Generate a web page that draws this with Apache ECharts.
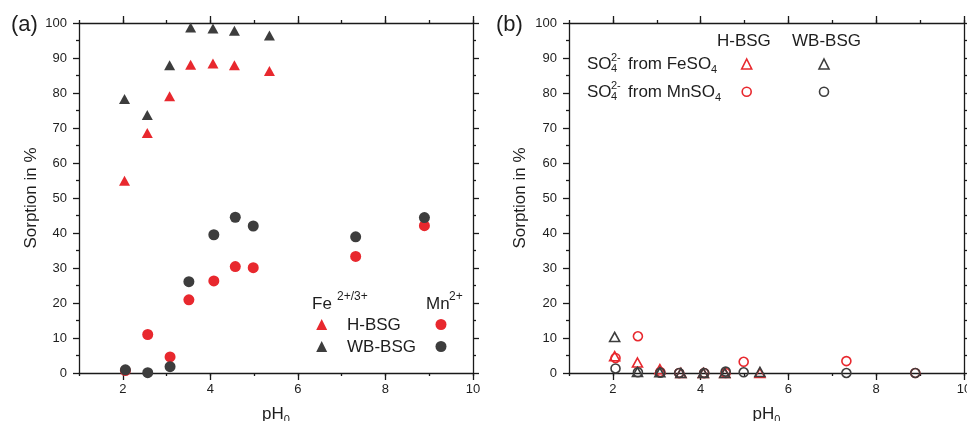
<!DOCTYPE html>
<html><head><meta charset="utf-8">
<script src="https://cdn.jsdelivr.net/npm/echarts@6/dist/echarts.min.js"></script>
<style>html,body{margin:0;padding:0;background:#fff}#c{width:967px;height:421px}</style>
</head><body><div id="c"></div>
<script>
// ---- data ----
const phFe = [2.04, 2.56, 3.07, 3.55, 4.06, 4.55, 5.35];
const phMn = [2.06, 2.57, 3.08, 3.51, 4.08, 4.57, 4.98, 7.32, 8.89];
// panel (a): sorption of metal ions
const feH = [54.9, 68.6, 79.1, 88.1, 88.4, 87.9, 86.3];
const feW = [78.3, 73.7, 87.9, 98.7, 98.4, 97.8, 96.4];
const mnH = [0.7, 11.0, 4.6, 20.9, 26.3, 30.4, 30.1, 33.3, 42.1];
const mnW = [0.9, 0.1, 1.8, 26.1, 39.5, 44.5, 42.0, 38.9, 44.4];
// panel (b): sorption of sulfate
const so4FeH = [4.8, 3.0, 1.1, 0, 0, 0, 0];
const so4FeW = [10.3, 0.3, 0.2, 0, 0, 0, 0.3];
const so4MnH = [4.3, 10.5, 0.3, 0, 0, 0, 3.2, 3.4, 0];
const so4MnW = [1.3, 0.2, 0.1, 0, 0, 0.4, 0.2, 0, 0];
const xTicks = [2, 4, 6, 8, 10];

const RED = '#e8282e', DARK = '#3d3d3d', TXT = '#1e1e1e', AX = '#1a1a1a';
const FONT = '"Liberation Sans", Arial, sans-serif';
const pairs = (xs, ys) => xs.map((x, i) => [x, ys[i]]);

const axLine = {color: AX, width: 1.3};
// minor x axis: a tick at every integer (short), labels at even values
function xAxis(gi, pos, main) {
  return {
    type: 'value', gridIndex: gi, position: pos, min: 1, max: 10, interval: 1,
    axisLine: {show: true, onZero: false, lineStyle: axLine},
    axisTick: {show: true, inside: false, length: 3, lineStyle: axLine},
    axisLabel: {show: main, margin: 10, fontSize: 13, color: TXT, fontFamily: FONT, hideOverlap: false,
      formatter: v => xTicks.indexOf(v) >= 0 ? String(v) : ''},
    splitLine: {show: false},
    name: main ? '{a|pH}{s|0}' : '', nameLocation: 'middle', nameGap: 30,
    nameTextStyle: {color: TXT, fontFamily: FONT, fontSize: 17,
      rich: {a: {fontSize: 17, lineHeight: 22, color: TXT, fontFamily: FONT},
             s: {fontSize: 11, lineHeight: 12, verticalAlign: 'bottom', color: TXT, fontFamily: FONT}}}
  };
}
// overlay axis carrying only the long major ticks at even values
function xMajor(gi, pos) {
  return {
    type: 'value', gridIndex: gi, position: pos, min: 1, max: 10, interval: 1,
    axisLine: {show: false, onZero: false},
    axisTick: {show: true, inside: false, length: 7, lineStyle: axLine, customValues: xTicks},
    axisLabel: {show: false}, splitLine: {show: false}
  };
}
function yAxis(gi, pos, main, gap) {
  return {
    type: 'value', gridIndex: gi, position: pos, min: 0, max: 100, interval: 10,
    axisLine: {show: true, onZero: false, lineStyle: axLine},
    axisTick: {show: true, inside: false, length: 6, lineStyle: axLine},
    minorTick: {show: true, splitNumber: 2, length: 3, lineStyle: axLine},
    axisLabel: {show: main, margin: 12, fontSize: 13, color: TXT, fontFamily: FONT},
    splitLine: {show: false}, minorSplitLine: {show: false},
    name: main ? 'Sorption in %' : '', nameLocation: 'middle', nameGap: gap,
    nameTextStyle: {color: TXT, fontFamily: FONT, fontSize: 17}
  };
}
function sc(name, xi, yi, data, symbol, color, hollow, size) {
  return {
    type: 'scatter', name, xAxisIndex: xi, yAxisIndex: yi, data, symbol,
    symbolSize: size, silent: true, z: 3,
    itemStyle: hollow ? {color: 'rgba(0,0,0,0)', borderColor: color, borderWidth: 1.6, opacity: 1}
                      : {color: color, opacity: 1}
  };
}
// legend graphics helpers
function T(x, y, text, size, extra) {
  return {type: 'text', x, y, z: 100, silent: true,
    style: Object.assign({text, fontSize: size, fontFamily: FONT, fill: TXT, align: 'left', verticalAlign: 'middle'}, extra || {})};
}
function tri(cx, cy, s, color, hollow) {
  return {type: 'polygon', z: 100, silent: true,
    shape: {points: [[cx, cy - s / 2], [cx + s / 2, cy + s / 2], [cx - s / 2, cy + s / 2]]},
    style: hollow ? {fill: 'none', stroke: color, lineWidth: 1.6} : {fill: color}};
}
function dot(cx, cy, r, color, hollow) {
  return {type: 'circle', z: 100, silent: true, shape: {cx, cy, r},
    style: hollow ? {fill: 'none', stroke: color, lineWidth: 1.6} : {fill: color}};
}
const subRich = {s: {fontSize: 11, lineHeight: 12, verticalAlign: 'bottom', fill: TXT, fontFamily: FONT}};

const option = {
  animation: false,
  backgroundColor: '#fff',
  grid: [
    {left: 79, right: 494, top: 23, bottom: 48, outerBoundsMode: 'none', containLabel: false},
    {left: 569, right: 3, top: 23, bottom: 48, outerBoundsMode: 'none', containLabel: false}
  ],
  xAxis: [
    xAxis(0, 'bottom', true), xAxis(0, 'top', false), xMajor(0, 'bottom'), xMajor(0, 'top'),
    xAxis(1, 'bottom', true), xAxis(1, 'top', false), xMajor(1, 'bottom'), xMajor(1, 'top')
  ],
  yAxis: [yAxis(0, 'left', true, 39), yAxis(0, 'right', false, 0), yAxis(1, 'left', true, 40), yAxis(1, 'right', false, 0)],
  series: [
    sc('Fe H-BSG', 0, 0, pairs(phFe, feH), 'triangle', RED, false, [11, 10]),
    sc('Fe WB-BSG', 0, 0, pairs(phFe, feW), 'triangle', DARK, false, [11, 10]),
    sc('Mn H-BSG', 0, 0, pairs(phMn, mnH), 'circle', RED, false, 11),
    sc('Mn WB-BSG', 0, 0, pairs(phMn, mnW), 'circle', DARK, false, 11),
    sc('SO4 FeSO4 H-BSG', 4, 2, pairs(phFe, so4FeH), 'triangle', RED, true, [10, 9]),
    sc('SO4 MnSO4 H-BSG', 4, 2, pairs(phMn, so4MnH), 'circle', RED, true, 9),
    sc('SO4 FeSO4 WB-BSG', 4, 2, pairs(phFe, so4FeW), 'triangle', DARK, true, [10, 9]),
    sc('SO4 MnSO4 WB-BSG', 4, 2, pairs(phMn, so4MnW), 'circle', DARK, true, 9)
  ],
  graphic: [
    T(11, 25, '(a)', 22),
    T(496, 25, '(b)', 22),
    // panel (a) legend
    T(312, 304, 'Fe', 17), T(337, 297, '2+/3+', 12),
    T(426, 304, 'Mn', 17), T(449, 297, '2+', 12),
    tri(321.7, 324.5, 11, RED, false), T(347, 325, 'H-BSG', 17), dot(441, 324.5, 5.5, RED, false),
    tri(321.7, 346.5, 11, DARK, false), T(347, 347, 'WB-BSG', 17), dot(441, 346.5, 5.5, DARK, false),
    // panel (b) legend
    T(717, 41, 'H-BSG', 17), T(792, 41, 'WB-BSG', 17),
    T(587, 64, 'SO', 17), T(611, 58, '2-', 11), T(611, 69, '4', 11),
    T(628, 64, 'from FeSO{s|4}', 17, {lineHeight: 22, rich: subRich}),
    T(587, 92, 'SO', 17), T(611, 86, '2-', 11), T(611, 97, '4', 11),
    T(628, 92, 'from MnSO{s|4}', 17, {lineHeight: 22, rich: subRich}),
    tri(746.7, 64, 10, RED, true), tri(824, 64, 10, DARK, true),
    dot(746.7, 91.7, 4.5, RED, true), dot(824, 91.7, 4.5, DARK, true)
  ]
};
const chart = echarts.init(document.getElementById('c'), null, {renderer: 'canvas'});
chart.setOption(option);
</script>
</body></html>
